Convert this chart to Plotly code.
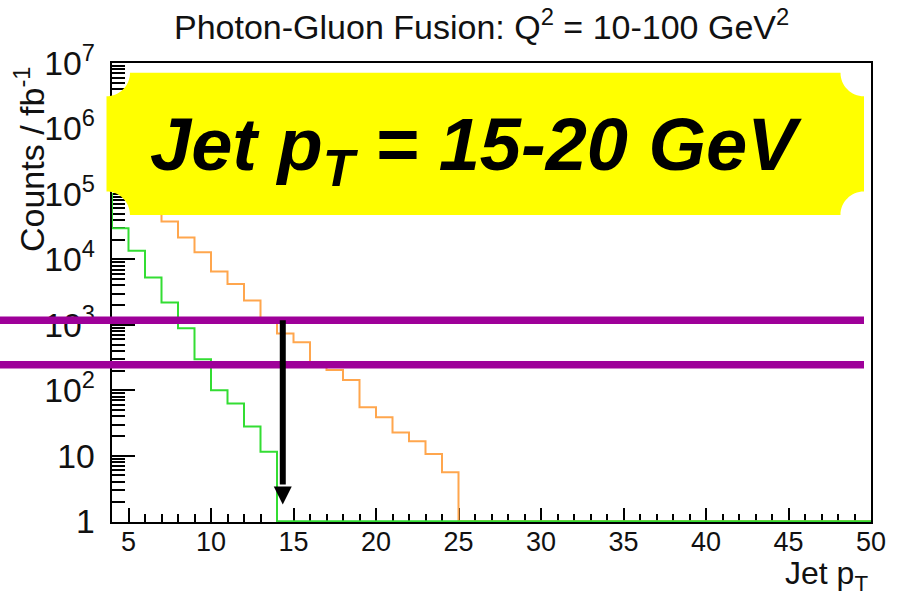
import math
import plotly.graph_objects as go

# Jet pT histogram, 1 GeV bins (low edges), last upper edge = 50
bin_low = list(range(3, 50))
bin_high_edge = 50

# Counts per bin (fb^-1); empty bins are 0
pgf_total = [6.0e5, 3.2e5, 1.6e5, 7.5e4, 3.8e4, 2.15e4, 1.29e4, 6.5e3, 4.2e3,
             2.35e3, 1.23e3, 740, 540, 270, 204, 144, 55, 38.6, 22.7, 16.7,
             10.6, 5.6] + [0] * 25
pgf_tagged = [1.0e5, 3.0e4, 1.35e4, 5.3e3, 2.2e3, 890, 297, 100, 63, 28,
              11.5] + [0] * 36

# Horizontal count levels and the jet-pT marker
band_levels = [1180, 246]
arrow_x = 14.35
arrow_top, arrow_tip = 1180, 1.8

x_ticks = [5, 10, 15, 20, 25, 30, 35, 40, 45, 50]

# axis extents
X_RANGE = [4, 50]
Y_RANGE = [-0.012, 7]     # log10 decades
FLOOR = 1.0               # empty bins drawn on the frame bottom

W, H = 897, 595
ML, MR, MT, MB = 112, 26, 63, 73
PW, PH = W - ML - MR, H - MT - MB


def step_xy(values):
    xs = bin_low + [bin_high_edge]
    ys = [v if v > 0 else FLOOR for v in values]
    return xs, ys + [ys[-1]]


def px_to_paper(px, py):
    return (px - ML) / PW, (H - MB - py) / PH


def count_to_paper(c):
    return (math.log10(c) - Y_RANGE[0]) / (Y_RANGE[1] - Y_RANGE[0])


fig = go.Figure()

xo, yo = step_xy(pgf_total)
fig.add_trace(go.Scatter(x=xo, y=yo, mode="lines", line_shape="hv",
                         line=dict(color="#ffa64d", width=2),
                         showlegend=False, hoverinfo="skip"))
xg, yg = step_xy(pgf_tagged)
fig.add_trace(go.Scatter(x=xg, y=yg, mode="lines", line_shape="hv",
                         line=dict(color="#33dd33", width=2),
                         showlegend=False, hoverinfo="skip"))

shapes = []

# horizontal level bars (extend off the frame to the left page edge)
for lvl in band_levels:
    yp = count_to_paper(lvl)
    x0p, _ = px_to_paper(0, 0)
    x1p, _ = px_to_paper(864, 0)
    shapes.append(dict(type="line", xref="paper", yref="paper",
                       x0=x0p, x1=x1p, y0=yp, y1=yp,
                       line=dict(color="#9e0099", width=7.5), layer="above"))

# downward arrow
head_px = 18
head_half = 9 / (PW / (X_RANGE[1] - X_RANGE[0]))
y_tip = count_to_paper(arrow_tip)
y_head = y_tip + head_px / PH
shapes.append(dict(type="line", xref="x", yref="paper",
                   x0=arrow_x, x1=arrow_x, y0=count_to_paper(arrow_top),
                   y1=y_head + 2 / PH,
                   line=dict(color="black", width=6), layer="above"))
shapes.append(dict(type="path", xref="x", yref="paper",
                   path=(f"M {arrow_x - head_half},{y_head} "
                         f"L {arrow_x + head_half},{y_head} "
                         f"L {arrow_x},{y_tip} Z"),
                   fillcolor="black", line=dict(width=0), layer="above"))

# yellow banner with concave rounded corners
bl, br, bt, bb, r = 106.5, 864.0, 72.7, 215.0, 23.5
k = 0.5523


def arc(p0, p3, c):
    p1 = (p0[0] + k * (p3[0] - c[0]), p0[1] + k * (p3[1] - c[1]))
    p2 = (p3[0] + k * (p0[0] - c[0]), p3[1] + k * (p0[1] - c[1]))
    return [p1, p2, p3]


def P(pt):
    x, y = px_to_paper(*pt)
    return f"{x:.5f},{y:.5f}"


segs = [f"M {P((bl + r, bt))}", f"L {P((br - r, bt))}"]
c1, c2, c3 = arc((br - r, bt), (br, bt + r), (br, bt))
segs.append(f"C {P(c1)} {P(c2)} {P(c3)}")
segs.append(f"L {P((br, bb - r))}")
c1, c2, c3 = arc((br, bb - r), (br - r, bb), (br, bb))
segs.append(f"C {P(c1)} {P(c2)} {P(c3)}")
segs.append(f"L {P((bl + r, bb))}")
c1, c2, c3 = arc((bl + r, bb), (bl, bb - r), (bl, bb))
segs.append(f"C {P(c1)} {P(c2)} {P(c3)}")
segs.append(f"L {P((bl, bt + r))}")
c1, c2, c3 = arc((bl, bt + r), (bl + r, bt), (bl, bt))
segs.append(f"C {P(c1)} {P(c2)} {P(c3)} Z")
shapes.append(dict(type="path", xref="paper", yref="paper", path=" ".join(segs),
                   fillcolor="#ffff00", line=dict(width=0), layer="above"))

FONT = "Liberation Sans, Arial, Helvetica, sans-serif"
annotations = []
tx, ty = px_to_paper(481, 24)
annotations.append(dict(text="Photon-Gluon Fusion: Q<sup>2</sup> = 10-100 GeV<sup>2</sup>",
                        xref="paper", yref="paper", x=tx, y=ty,
                        xanchor="center", yanchor="middle", showarrow=False,
                        font=dict(family=FONT, size=34, color="#111111")))
yx, yy = px_to_paper(29, 159)
annotations.append(dict(text="Counts / fb<sup>-1</sup>", textangle=-90,
                        xref="paper", yref="paper", x=yx, y=yy,
                        xanchor="center", yanchor="middle", showarrow=False,
                        font=dict(family=FONT, size=34, color="#111111")))
xx, xy = px_to_paper(870, 553)
annotations.append(dict(text="Jet p<sub>T</sub>",
                        xref="paper", yref="paper", x=xx, y=xy,
                        xanchor="right", yanchor="top", showarrow=False,
                        font=dict(family=FONT, size=32, color="#111111")))
bx, by = px_to_paper(476, 150)
annotations.append(dict(text="<b><i>Jet p<sub>T</sub> = 15-20 GeV</i></b>",
                        xref="paper", yref="paper", x=bx, y=by,
                        xanchor="center", yanchor="middle", showarrow=False,
                        font=dict(family=FONT, size=74, color="black")))

fig.update_layout(
    width=W, height=H,
    margin=dict(l=ML, r=MR, t=MT, b=MB, pad=0),
    paper_bgcolor="white", plot_bgcolor="white",
    shapes=shapes, annotations=annotations,
    xaxis=dict(range=X_RANGE, tickvals=x_ticks, ticks="inside", ticklen=14,
               tickwidth=1.5, tickcolor="black", showline=True, mirror=True,
               linecolor="black", linewidth=1.5, showgrid=False, zeroline=False,
               ticklabelstandoff=-5, layer="below traces",
               tickfont=dict(family=FONT, size=27, color="#111111"),
               minor=dict(dtick=1, ticks="inside", ticklen=8, tickwidth=1.5,
                          tickcolor="black", showgrid=False)),
    yaxis=dict(type="log", range=Y_RANGE, dtick=1, exponentformat="power",
               ticks="inside", ticklen=23, tickwidth=1.5, tickcolor="black",
               showline=True, mirror=True, linecolor="black", linewidth=1.5,
               showgrid=False, zeroline=False, ticklabelstandoff=10,
               layer="below traces",
               tickfont=dict(family=FONT, size=27, color="#111111"),
               minor=dict(dtick="D1", ticks="inside", ticklen=13, tickwidth=1.5,
                          tickcolor="black", showgrid=False)),
)

fig.write_html("out.html")
